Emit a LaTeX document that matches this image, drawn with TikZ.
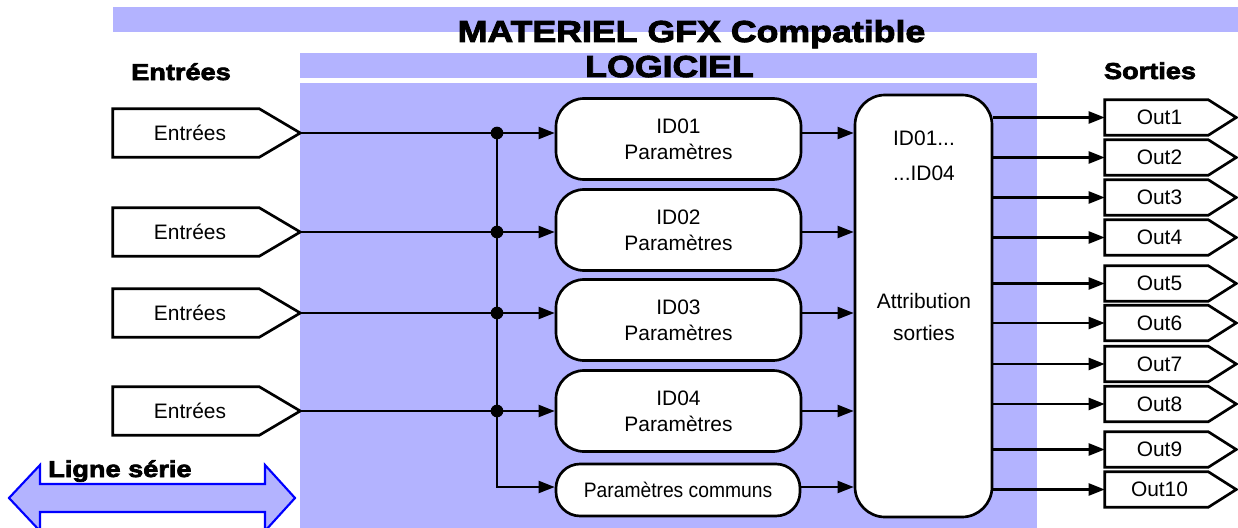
\documentclass[tikz,border=0pt]{standalone}
\usepackage{fontspec}
\setmainfont{Liberation Sans}
\newfontfamily\heavyfont[FakeBold=3,FakeStretch=1.18]{Liberation Sans}
\newfontfamily\narrowfont[FakeStretch=0.92]{Liberation Sans}
\usetikzlibrary{arrows.meta}
\definecolor{zone}{HTML}{B3B3FF}
\definecolor{serial}{HTML}{0000FF}

\begin{document}
\begin{tikzpicture}[x=0.75pt,y=-0.75pt,
  txt/.style={font=\fontsize{15.7}{19.5}\selectfont, inner sep=0pt, align=center},
  heavy/.style={font=\heavyfont\bfseries\fontsize{22.7}{26}\selectfont, inner sep=0pt, anchor=base},
  headlabel/.style={font=\heavyfont\bfseries\fontsize{17.25}{20}\selectfont, inner sep=0pt, anchor=base},
  wire/.style={line width=1.6pt},
  arr/.style={wire, -{Triangle[length=12pt,width=9pt]}},
  outline/.style={draw, line width=2pt, fill=white, line join=miter},
  idbox/.style={outline, rounded corners=21pt, minimum width=245*0.75pt, minimum height=81*0.75pt, txt},
  pcbox/.style={outline, rounded corners=18pt, minimum width=244*0.75pt, minimum height=52*0.75pt,
    inner sep=0pt, font=\narrowfont\fontsize{15.7}{19.5}\selectfont},
  attrbox/.style={outline, rounded corners=22.5pt, minimum width=137*0.75pt, minimum height=422*0.75pt},
  inshape/.style={minimum width=146*0.75pt, minimum height=48*0.75pt, inner sep=0pt},
  outshape/.style={minimum width=103*0.75pt, minimum height=35*0.75pt, inner sep=0pt},
  junction/.style={circle, fill, inner sep=0pt, minimum size=9.5pt},
  serialarrow/.style={draw=serial, fill=zone, line width=1.6pt, line join=miter}]

\useasboundingbox (0,0) rectangle (1238,528);
\clip (0,0) rectangle (1238,528);
\fill[white] (0,0) rectangle (1238,528);

% coloured bands: hardware, software and the software area
\fill[zone] (113,7) rectangle (1238,32);
\fill[zone] (300,53) rectangle (1037,78);
\fill[zone] (300,83) rectangle (1037,528);

\node[heavy] (title) at (691.5,42) {MATERIEL GFX Compatible};
\node[heavy] (soft) at (669.5,77) {LOGICIEL};
\node[headlabel] (inhead) at (181,80) {Entrées};
\node[headlabel] (outhead) at (1150,79) {Sorties};

% serial line double arrow
\draw[serialarrow] (9,498) -- (40,465) -- (40,484) -- (265,484) -- (265,465) -- (295,498)
  -- (265,531) -- (265,512) -- (40,512) -- (40,531) -- cycle;
\node[headlabel, anchor=base west] (serial) at (48,477) {Ligne série};

% input boxes
\foreach \n/\yy in {1/133,2/232,3/313,4/411} {
  \node[inshape] (in\n) at (186,\yy) {};
  \draw[outline] (in\n.north west) -- (in\n.north east) -- ([xshift=41*0.75pt]in\n.east) coordinate (tip\n)
    -- (in\n.south east) -- (in\n.south west) -- cycle;
  \node[txt] (inlabel\n) at ([xshift=4*0.75pt]in\n.center) {Entrées};
}

% output boxes
\foreach \n/\yy in {1/117.5,2/157.5,3/197.5,4/237.5,5/283.5,6/323,7/364,8/404,9/449.5,10/489.5} {
  \node[outshape] (out\n) at (1156.5,\yy) {};
  \draw[outline] (out\n.north west) -- (out\n.north east) -- ([xshift=28*0.75pt]out\n.east)
    -- (out\n.south east) -- (out\n.south west) -- cycle;
  \node[txt] (outlabel\n) at ([xshift=3*0.75pt]out\n.center) {Out\n};
}

% parameter blocks
\node[idbox] (id1) at (678.5,139) {ID01\\Paramètres};
\node[idbox] (id2) at (678.5,230) {ID02\\Paramètres};
\node[idbox] (id3) at (678.5,320) {ID03\\Paramètres};
\node[idbox] (id4) at (678.5,411) {ID04\\Paramètres};
\node[pcbox] (pc) at (678,490) {Paramètres communs};

% output assignment block
\node[attrbox] (attr) at (923.5,306) {};
\node[txt] (attrA) at (924,138) {ID01...};
\node[txt] (attrB) at (924,173) {...ID04};
\node[txt] (attrC) at (924,301) {Attribution};
\node[txt] (attrD) at (924,333) {sorties};

% connections
\coordinate (jx) at (497,0);
\coordinate (jc) at (497,487);
\foreach \n in {1,...,4} {
  \draw[wire] (tip\n) -- (tip\n -| jx);
  \draw[arr] (tip\n -| jx) -- (tip\n -| id\n.west);
  \draw[arr] (tip\n -| id\n.east) -- (tip\n -| attr.west);
}
\draw[arr] (tip1 -| jx) -- (jc) -- (jc -| pc.west);
\draw[arr] (jc -| pc.east) -- (jc -| attr.west);
\foreach \n in {1,...,4}
  \node[junction] (j\n) at (tip\n -| jx) {};

\foreach \n in {1,...,10}
  \draw[arr] (out\n.west -| attr.east) -- (out\n.west);

\end{tikzpicture}
\end{document}
